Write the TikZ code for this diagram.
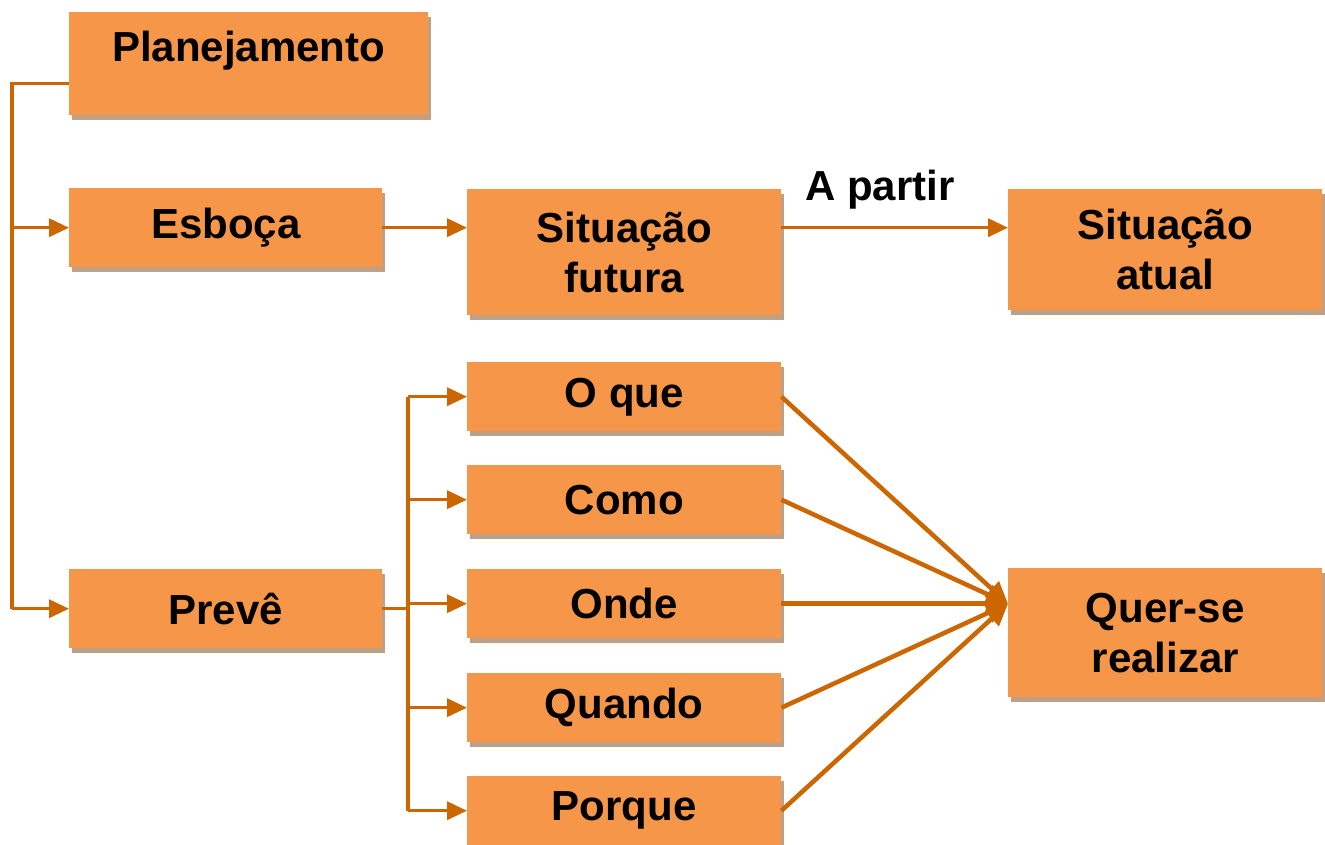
\documentclass[tikz,border=0pt]{standalone}
\usepackage{fontspec}
\setmainfont{Liberation Sans}
\usetikzlibrary{arrows.meta,shadows,calc}
\definecolor{boxfill}{RGB}{246,150,72}
\definecolor{linec}{RGB}{204,102,0}
\definecolor{shadowc}{RGB}{190,160,135}
\begin{document}
\begin{tikzpicture}[x=1pt,y=-1pt,
  box/.style={draw=none,fill=boxfill,anchor=north west,inner sep=0pt,align=center,
    font=\fontsize{42}{50}\selectfont\bfseries,
    drop shadow={shadow xshift=3pt,shadow yshift=-5pt,fill=shadowc,opacity=1}},
  lbl/.style={inner sep=0pt,font=\fontsize{42}{50}\selectfont\bfseries},
  conn/.style={draw=linec,line width=3.5pt},
  arr/.style={conn,-{Triangle[length=20pt,width=18pt]}},
  darr/.style={draw=linec,line width=4.5pt,-{Triangle[length=22pt,width=20pt]}}]
\useasboundingbox (0,0) rectangle (1325,844);
% boxes
\node[box,minimum width=359pt,minimum height=103pt] (plan) at (69,12) {};
\node[lbl] (plantxt) at ($(plan.north)+(0,39)$) {Planejamento};
\node[box,minimum width=313pt,minimum height=79pt] (esboca) at (69,188) {Esboça};
\node[box,minimum width=314pt,minimum height=126pt] (futura) at (467,189) {Situação\\futura};
\node[box,minimum width=314pt,minimum height=121pt] (atual) at (1008,189) {Situação\\atual};
\node[box,minimum width=313pt,minimum height=79pt] (preve) at (69,569) {Prevê};
\node[box,minimum width=314pt,minimum height=69pt] (oque) at (467,362) {O que};
\node[box,minimum width=314pt,minimum height=69pt] (como) at (467,465) {Como};
\node[box,minimum width=314pt,minimum height=69pt] (onde) at (467,569) {Onde};
\node[box,minimum width=314pt,minimum height=69pt] (quando) at (467,673) {Quando};
\node[box,minimum width=314pt,minimum height=69pt] (porque) at (467,776) {Porque};
\node[box,minimum width=314pt,minimum height=129pt] (quer) at (1008,568) {Quer-se\\realizar};
\node[lbl] (apartir) at (880,190) {A partir};
% left trunk
\coordinate (pstart) at ($(plan.west)+(0,20)$);
\coordinate (trunktop) at (12,0 |- pstart);
\coordinate (trunkbot) at (12,0 |- preve.west);
\draw[conn] (pstart) -- (trunktop) -- (trunkbot);
\draw[arr] (trunktop |- esboca.west) -- (esboca.west);
\draw[arr] (trunkbot) -- (preve.west);
% top row
\draw[arr] (esboca.east) -- (esboca.east -| futura.west);
\draw[arr] (esboca.east -| futura.east) -- (esboca.east -| atual.west);
% preve branch
\coordinate (bx) at (408,0);
\draw[conn] (preve.east) -- (bx |- preve.east);
\draw[conn] (bx |- oque.west) -- (bx |- porque.west);
\draw[arr] (bx |- oque.west) -- (oque.west);
\draw[arr] (bx |- como.west) -- (como.west);
\draw[arr] (bx |- onde.west) -- (onde.west);
\draw[arr] (bx |- quando.west) -- (quando.west);
\draw[arr] (bx |- porque.west) -- (porque.west);
% convergence
\coordinate (qin) at (quer.west |- onde.east);
\draw[darr] (oque.east) -- (qin);
\draw[darr] (como.east) -- (qin);
\draw[darr] (onde.east) -- (qin);
\draw[darr] (quando.east) -- (qin);
\draw[darr] (porque.east) -- (qin);
\end{tikzpicture}
\end{document}
